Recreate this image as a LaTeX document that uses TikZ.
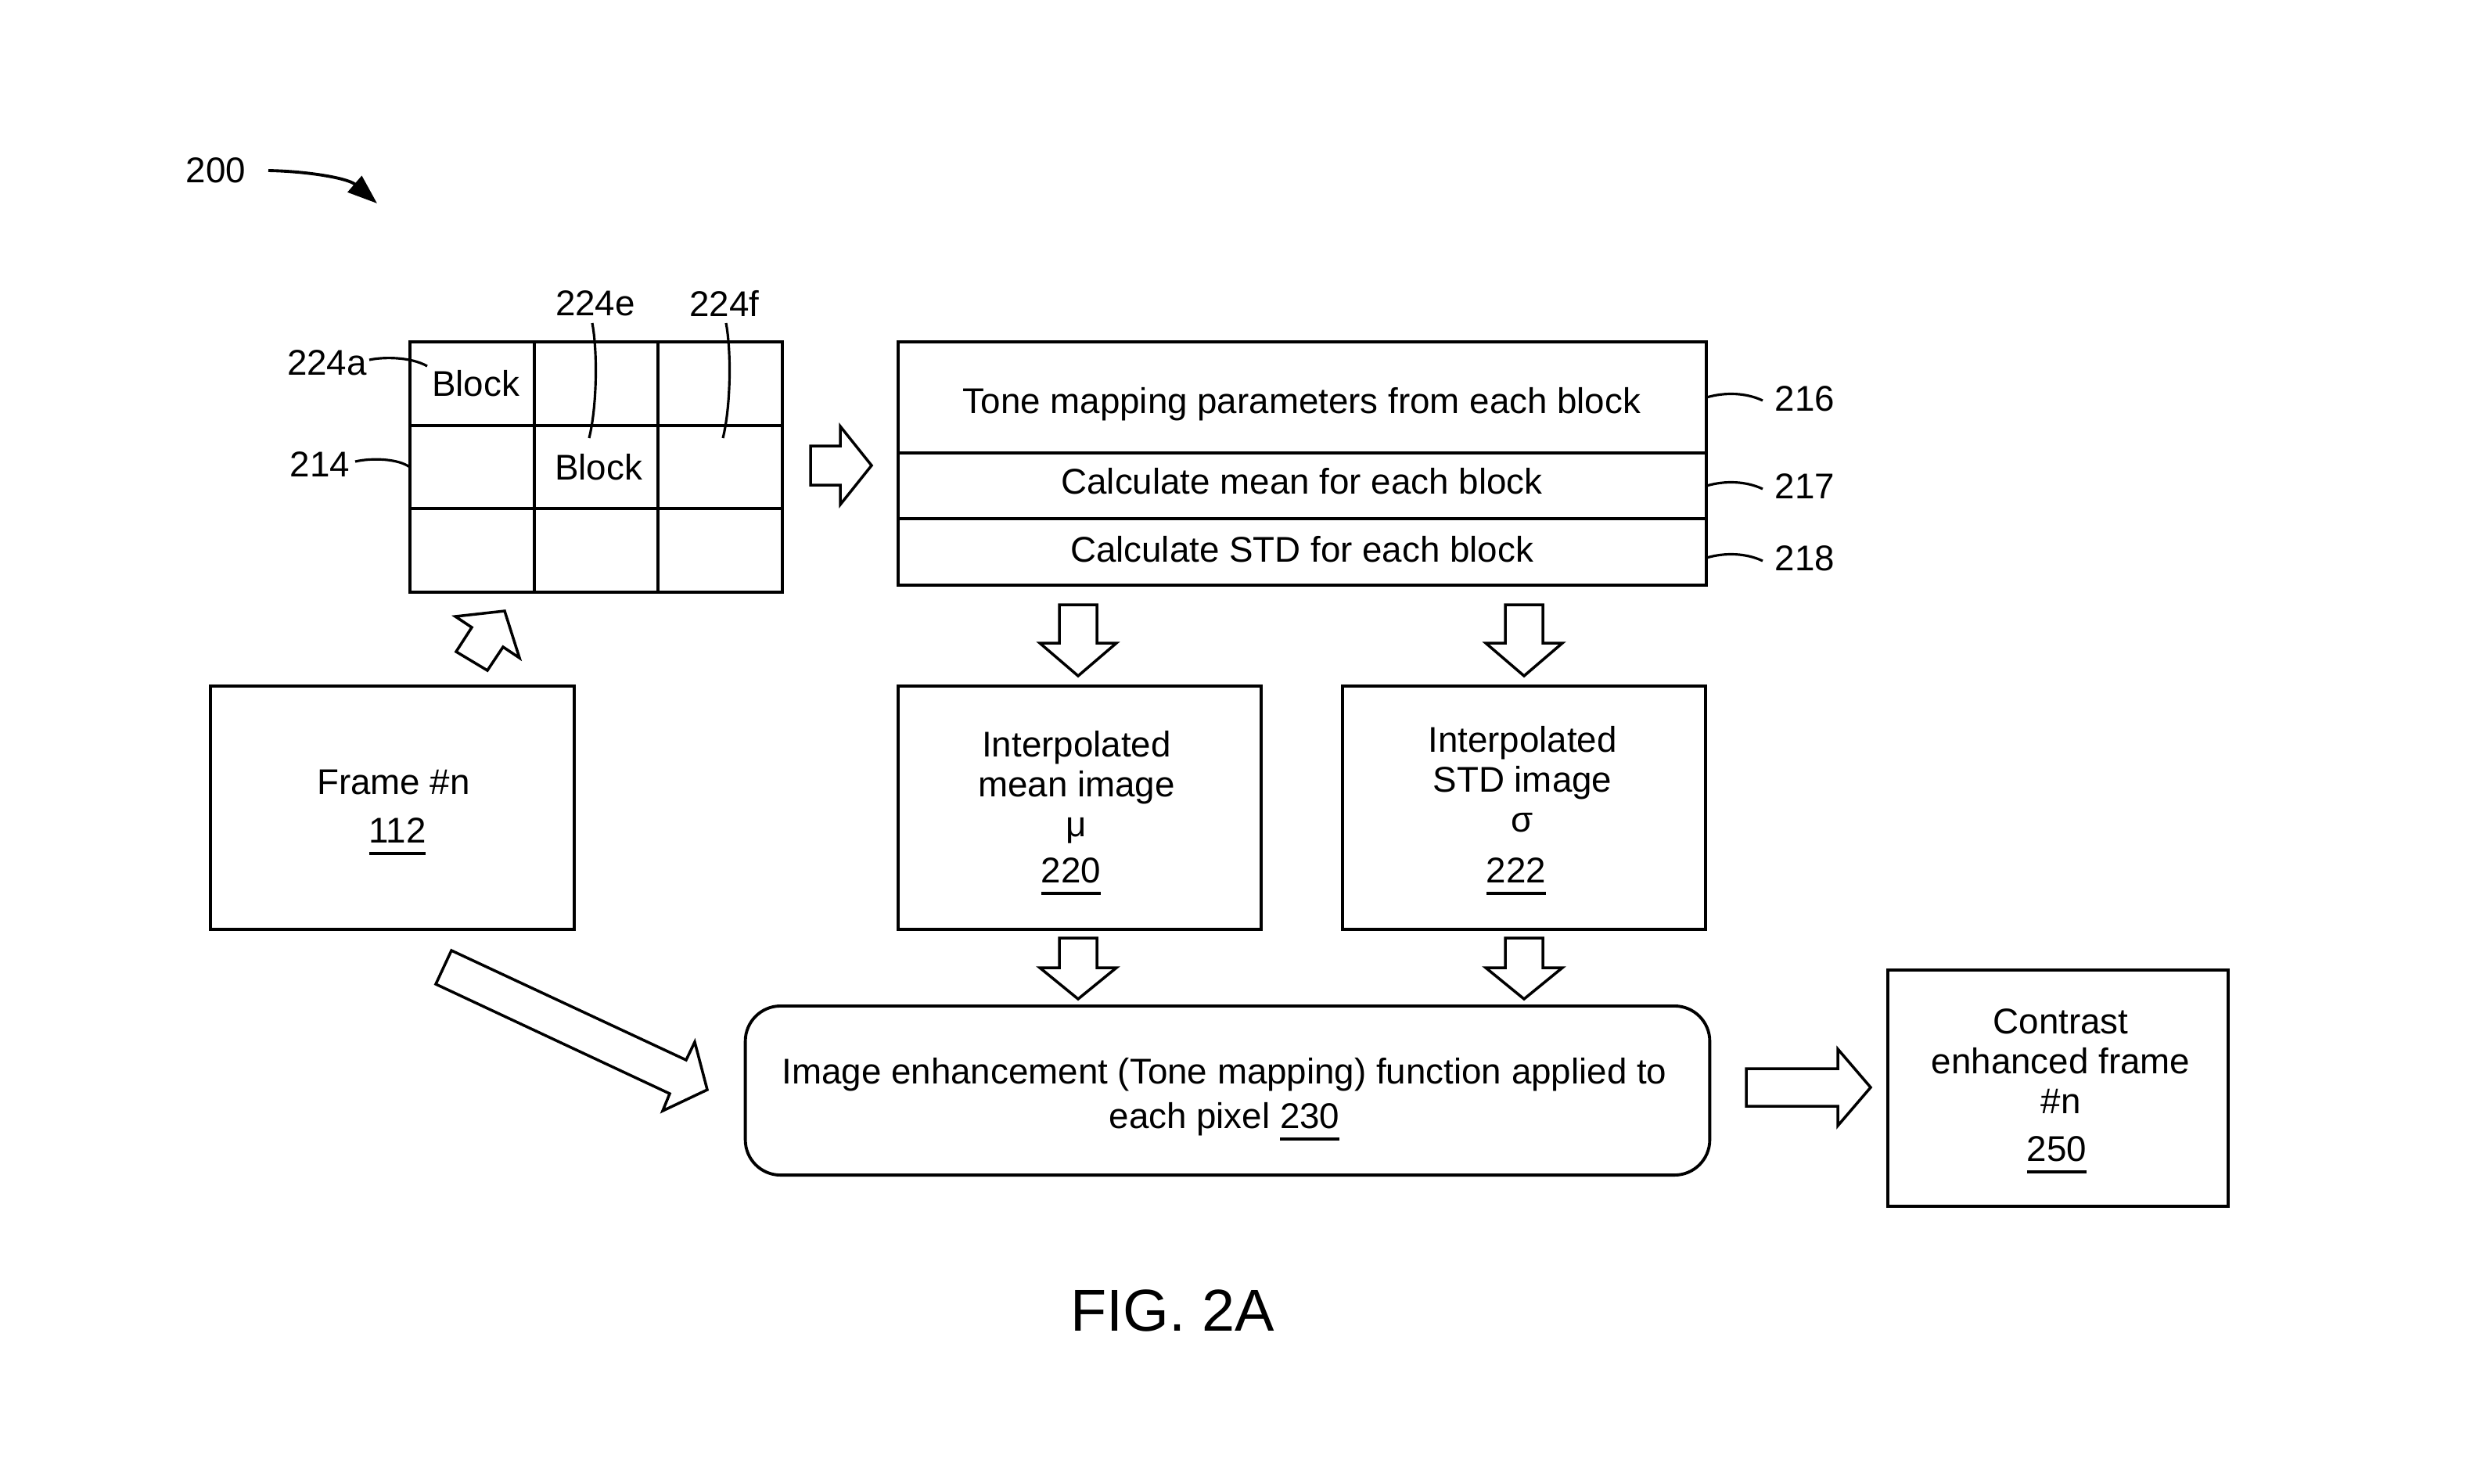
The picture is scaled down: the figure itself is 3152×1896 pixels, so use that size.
\documentclass[tikz,border=0pt]{standalone}
\usepackage{fontspec}
\setmainfont{Liberation Sans}
\usetikzlibrary{calc,arrows.meta}
\newcommand{\ulnum}[1]{\setbox0=\hbox{#1}\rlap{\rule[-4.5pt]{\wd0}{1.1pt}}\box0}
\newcommand{\blockarrow}[6]{%
 \begin{scope}[shift={(#1)}, rotate=#2]
  \draw[barrow] (0,#4) -- ({#3-#6},#4) -- ({#3-#6},#5) -- (#3,0) -- ({#3-#6},-#5) -- ({#3-#6},-#4) -- (0,-#4) -- cycle;
 \end{scope}}
\begin{document}
\begin{tikzpicture}[x=0.01cm,y=0.01cm,
 every node/.style={inner sep=0pt, outer sep=0pt},
 txt/.style={font=\fontsize{13pt}{14.5pt}\selectfont, align=center},
 box/.style={draw, line width=1.1pt},
 lead/.style={line width=0.9pt},
 barrow/.style={draw, line width=1pt, line join=miter, fill=white}]
\useasboundingbox (0,0) rectangle (3152,-1896);

% reference 200
\node[txt] (n200) at (276,-218) {200};
\coordinate (a200s) at (343,-218);
\coordinate (a200e) at (482,-260);
\draw[line width=1.1pt, -{Triangle[length=0.38cm,width=0.27cm]}] (a200s) .. controls (395,-219) and (445,-228) .. (a200e);

% block grid
\node[box, minimum width=4.75cm, minimum height=3.2cm] (grid) at (762,-597) {};
\foreach \f in {0.33333,0.66667} {
 \draw[line width=1.1pt] ($(grid.north west)!\f!(grid.north east)$) -- ($(grid.south west)!\f!(grid.south east)$);
 \draw[line width=1.1pt] ($(grid.north west)!\f!(grid.south west)$) -- ($(grid.north east)!\f!(grid.south east)$);
}
\node[txt] (blk1) at (608,-490) {Block};
\node[txt] (blk2) at (765,-597) {Block};

% grid labels
\node[txt] (n224a) at (418,-464) {224a};
\node[txt] (n214) at (409,-594) {214};
\node[txt] (n224e) at (761,-388) {224e};
\node[txt] (n224f) at (926,-388) {224f};
\coordinate (e224a) at (546,-468);
\coordinate (e214) at (525,-598);
\coordinate (e224e) at (753,-560);
\coordinate (e224f) at (924,-560);
\draw[lead] (472,-460) .. controls (490,-456) and (525,-456) .. (e224a);
\draw[lead] (454,-590) .. controls (475,-585) and (510,-586) .. (e214);
\draw[lead] (757,-413) .. controls (764,-450) and (763,-520) .. (e224e);
\draw[lead] (928,-413) .. controls (935,-450) and (934,-520) .. (e224f);

% top stacked box
\node[box, minimum width=10.33cm, minimum height=1.42cm] (tmp) at (1664.5,-508) {};
\node[box, minimum width=10.33cm, minimum height=0.84cm] (cmean) at (1664.5,-621) {};
\node[box, minimum width=10.33cm, minimum height=0.85cm] (cstd) at (1664.5,-705.5) {};
\node[txt, anchor=north] (ttmp) at (1664,-495) {Tone mapping parameters from each block};
\node[txt, anchor=north] (tcmean) at (1664,-598) {Calculate mean for each block};
\node[txt, anchor=north] (tcstd) at (1664,-685) {Calculate STD for each block};

\node[txt] (n216) at (2307,-510) {216};
\node[txt] (n217) at (2307,-622) {217};
\node[txt] (n218) at (2307,-714) {218};
\draw[lead] (tmp.east |- 0,-508) .. controls (2205,-501) and (2232,-502) .. (2253,-512);
\draw[lead] (cmean.east |- 0,-621) .. controls (2205,-614) and (2232,-615) .. (2253,-625);
\draw[lead] (cstd.east |- 0,-713) .. controls (2205,-706) and (2232,-707) .. (2253,-717);

% main boxes
\node[box, minimum width=4.65cm, minimum height=3.11cm] (frame) at (501.5,-1032.5) {};
\node[box, minimum width=4.64cm, minimum height=3.11cm] (meanimg) at (1380,-1032.5) {};
\node[box, minimum width=4.64cm, minimum height=3.11cm] (stdimg) at (1948,-1032.5) {};
\node[box, rounded corners=0.45cm, minimum width=12.32cm, minimum height=2.16cm] (enh) at (1569,-1394) {};
\node[box, minimum width=4.35cm, minimum height=3.02cm] (contrast) at (2630.5,-1391) {};

\node[txt, anchor=north] (tframe) at (503,-984) {Frame \#n\\[3.1pt]\hspace*{0.1cm}\ulnum{112}};
\node[txt, anchor=north] (tmean) at (1376,-934) {Interpolated\\mean image\\μ\\[2.3pt]\ulnum{220}\hspace*{0.14cm}};
\node[txt, anchor=north] (tstd) at (1946,-928) {Interpolated\\STD image\\σ\\[4pt]\ulnum{222}\hspace*{0.16cm}};
\node[txt, anchor=north] (tenh) at (1565,-1352) {Image enhancement (Tone mapping) function applied to\\[1.7pt]each pixel \ulnum{230}};
\node[txt, anchor=north] (tcon) at (2634,-1290) {Contrast\\enhanced frame\\\#n\\[2.6pt]\ulnum{250}\hspace*{0.1cm}};

% block arrows
\coordinate (ar1) at (1036,-595);
\blockarrow{ar1}{0}{78}{25}{50}{40}
\coordinate (ar2) at (1378,-773);
\blockarrow{ar2}{-90}{91}{24}{49}{42}
\coordinate (ar3) at (1948,-773);
\blockarrow{ar3}{-90}{91}{24}{49}{42}
\coordinate (ar4) at (1378,-1199);
\blockarrow{ar4}{-90}{78}{24}{49}{40}
\coordinate (ar5) at (1948,-1199);
\blockarrow{ar5}{-90}{78}{24}{49}{40}
\coordinate (ar6) at (2232,-1390);
\blockarrow{ar6}{0}{159}{24}{49}{42}
\draw[barrow] (582,-788) -- (603,-802) -- (583,-833) -- (623,-857) -- (643,-827) -- (664,-841) -- (645,-781) -- cycle;
\draw[barrow] (577,-1215) -- (877,-1355) -- (888,-1332) -- (904,-1393) -- (847,-1420) -- (856,-1398) -- (557,-1258) -- cycle;

\node[font=\fontsize{21.5pt}{24pt}\selectfont] (fig) at (1499,-1675) {FIG. 2A};
\end{tikzpicture}
\end{document}
